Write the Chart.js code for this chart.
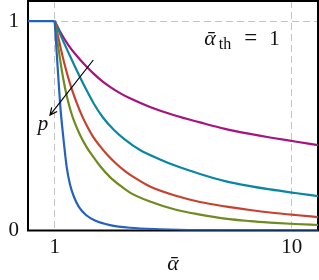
<!DOCTYPE html>
<html>
<head>
<meta charset="utf-8">
<script src="https://cdn.jsdelivr.net/npm/chart.js@4/dist/chart.umd.min.js"></script>
<style>
  html, body { margin: 0; padding: 0; background: #fff; }
  #wrap { width: 319px; height: 280px; }
</style>
</head>
<body>
<div id="wrap"><canvas id="chart" width="319" height="280"></canvas></div>
<script>
// axis ranges / ticks (x is alpha-bar on a log scale)
const xMin = 0.7715;
const xMax = 12.91;
const xTicks = [1, 10];
const yMin = 0;
const yMax = 1.0957;
const yTicks = [0, 1];

// below the threshold every curve sits at 1
const flatX = [0.7, 1];
const flatY = [1, 1];

// curves (p grows from purple to blue)
const blueX = [1, 1.0127, 1.0256, 1.0396, 1.0559, 1.0735, 1.0946, 1.1237, 1.1604, 1.2063,
               1.2666, 1.3553, 1.4793, 1.7118, 2.0781, 2.7817, 4.1033, 13];
const blueY = [1, 0.900, 0.804, 0.704, 0.594, 0.504, 0.413, 0.303, 0.220, 0.160,
               0.112, 0.074, 0.048, 0.026, 0.013, 0.006, 0.002, 0];

const greenX = [1, 1.0226, 1.0528, 1.0871, 1.127, 1.1715, 1.2181, 1.279, 1.3553, 1.4551, 1.5529,
                1.7118, 1.8862, 2.0781, 2.5241, 3.2191, 4.1033, 5.2308, 6.669, 8.0995, 10.326, 13];
const greenY = [1, 0.919, 0.819, 0.723, 0.637, 0.566, 0.511, 0.456, 0.403, 0.351, 0.308,
                0.255, 0.215, 0.181, 0.138, 0.100, 0.076, 0.057, 0.045, 0.038, 0.031, 0.026];

const redX = [1, 1.0528, 1.1053, 1.1414, 1.1833, 1.2383, 1.2999, 1.3685, 1.4551, 1.5529, 1.6627,
              1.8141, 1.9799, 2.1816, 2.5241, 3.2191, 4.1033, 5.2308, 6.669, 8.0995, 10.326, 13];
const redY = [1, 0.885, 0.785, 0.728, 0.671, 0.609, 0.551, 0.499, 0.446, 0.403, 0.363,
              0.320, 0.284, 0.251, 0.210, 0.167, 0.136, 0.115, 0.098, 0.086, 0.074, 0.064];

const tealX = [1, 1.0735, 1.1604, 1.254, 1.3553, 1.465, 1.6036, 1.7792, 1.9799, 2.2909, 2.7817,
               3.2191, 4.1033, 5.2308, 6.669, 8.0995, 10.326, 13];
const tealY = [1, 0.917, 0.833, 0.752, 0.675, 0.604, 0.537, 0.480, 0.434, 0.384, 0.339,
               0.310, 0.270, 0.236, 0.212, 0.196, 0.179, 0.164];

const purpleX = [1, 1.0528, 1.1379, 1.2383, 1.3422, 1.4551, 1.5757, 1.7118, 1.8862, 2.0781,
                 2.5241, 3.2191, 4.1033, 5.2308, 6.669, 8.0995, 10.326, 13];
const purpleY = [1, 0.950, 0.888, 0.834, 0.790, 0.750, 0.716, 0.686, 0.656, 0.631,
                 0.590, 0.549, 0.516, 0.485, 0.461, 0.444, 0.425, 0.407];

// annotation anchors in data units
const arrowFrom = [1.455, 0.814];
const arrowTo = [0.955, 0.551];
const pLabelAt = [0.893, 0.504];
const thLabelAt = [4.28, 0.885];

const serif = "'Liberation Serif', 'DejaVu Serif', serif";

function pts(xs, ys) {
    return xs.map((x, i) => ({ x: x, y: ys[i] }));
}

function line(label, xs, ys, color) {
    return {
        label: label,
        data: pts(xs, ys),
        borderColor: color,
        borderWidth: 2.2,
        pointRadius: 0,
        fill: false,
        cubicInterpolationMode: 'monotone'
    };
}

// black box around the plot area
const framePlugin = {
    id: 'frame',
    beforeDatasetsDraw(chart) {
        const { ctx, chartArea: a } = chart;
        ctx.save();
        ctx.strokeStyle = '#000';
        ctx.lineWidth = 2;
        ctx.strokeRect(a.left, a.top, a.right - a.left, a.bottom - a.top);
        ctx.restore();
    }
};

// arrow with "p" and the threshold label
const notesPlugin = {
    id: 'notes',
    afterDatasetsDraw(chart) {
        const { ctx, scales: { x, y } } = chart;
        const x1 = x.getPixelForValue(arrowFrom[0]), y1 = y.getPixelForValue(arrowFrom[1]);
        const x2 = x.getPixelForValue(arrowTo[0]), y2 = y.getPixelForValue(arrowTo[1]);
        ctx.save();
        ctx.strokeStyle = '#000';
        ctx.lineWidth = 1.2;
        ctx.beginPath();
        ctx.moveTo(x1, y1);
        ctx.lineTo(x2, y2);
        const ang = Math.atan2(y2 - y1, x2 - x1);
        const len = 8;
        ctx.moveTo(x2 - len * Math.cos(ang - 0.45), y2 - len * Math.sin(ang - 0.45));
        ctx.lineTo(x2, y2);
        ctx.lineTo(x2 - len * Math.cos(ang + 0.45), y2 - len * Math.sin(ang + 0.45));
        ctx.stroke();

        ctx.fillStyle = '#111';
        ctx.textAlign = 'center';
        ctx.textBaseline = 'middle';
        ctx.font = 'italic 21px ' + serif;
        ctx.fillText('p', x.getPixelForValue(pLabelAt[0]), y.getPixelForValue(pLabelAt[1]));

        // ᾱ_th = 1
        const tx = x.getPixelForValue(thLabelAt[0]);
        const ty = y.getPixelForValue(thLabelAt[1]);
        ctx.textAlign = 'left';
        ctx.textBaseline = 'alphabetic';
        ctx.font = 'italic 22px ' + serif;
        ctx.fillText('ᾱ', tx, ty);
        ctx.font = '16px ' + serif;
        ctx.fillText('th', tx + 14.5, ty + 3.5);
        ctx.font = '23px ' + serif;
        ctx.fillText('=', tx + 40, ty);
        ctx.font = '21px ' + serif;
        ctx.fillText('1', tx + 65, ty);
        ctx.restore();
    }
};

const tickFont = { family: serif, size: 21 };

new Chart(document.getElementById('chart'), {
    type: 'line',
    data: {
        datasets: [
            line('ᾱ < 1', flatX, flatY, '#2462c0'),
            line('blue', blueX, blueY, '#2462c0'),
            line('green', greenX, greenY, '#6f8a1e'),
            line('red', redX, redY, '#c8412e'),
            line('teal', tealX, tealY, '#0a87a0'),
            line('purple', purpleX, purpleY, '#a8127d')
        ]
    },
    options: {
        responsive: false,
        animation: false,
        devicePixelRatio: 1,
        layout: { padding: { left: 0, right: 1, top: 1, bottom: 0 } },
        plugins: { legend: { display: false }, tooltip: { enabled: false } },
        scales: {
            x: {
                type: 'logarithmic',
                min: xMin,
                max: xMax,
                afterBuildTicks: s => { s.ticks = xTicks.map(v => ({ value: v })); },
                afterFit: s => { s.height = 49.5; s.paddingLeft = 0; s.paddingRight = 0; },
                ticks: {
                    font: tickFont, color: '#111', padding: 4,
                    maxRotation: 0, autoSkip: false,
                    callback: v => String(v)
                },
                grid: { color: '#c4c4c4', lineWidth: 1, drawTicks: false },
                border: { display: false, dash: [7, 4] },
                title: {
                    display: true, text: 'ᾱ', color: '#111',
                    font: { family: serif, size: 22, style: 'italic' },
                    padding: { top: 0, bottom: 3 }
                }
            },
            y: {
                type: 'linear',
                min: yMin,
                max: yMax,
                afterBuildTicks: s => { s.ticks = yTicks.map(v => ({ value: v })); },
                afterFit: s => { s.width = 28; s.paddingTop = 0; s.paddingBottom = 0; },
                ticks: { font: tickFont, color: '#111', padding: 9, callback: v => String(v) },
                grid: { color: '#c4c4c4', lineWidth: 1, drawTicks: false },
                border: { display: false, dash: [7, 4] }
            }
        }
    },
    plugins: [framePlugin, notesPlugin]
});
</script>
</body>
</html>
